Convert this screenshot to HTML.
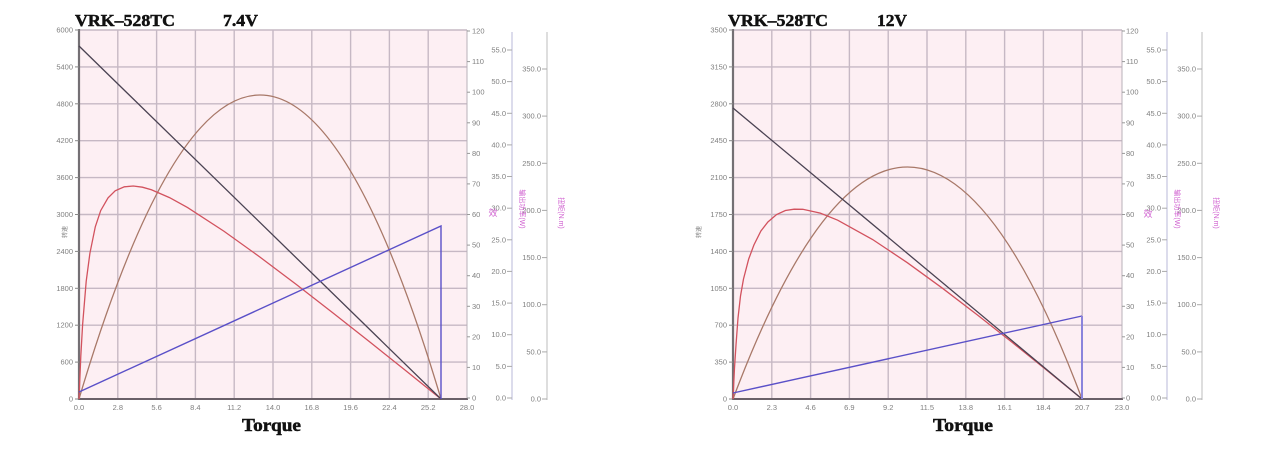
<!DOCTYPE html>
<html>
<head>
<meta charset="utf-8">
<style>
html,body{margin:0;padding:0;background:#fff;}
svg{display:block;}
.tk{font-family:"Liberation Sans",sans-serif;font-size:7.5px;fill:#808080;}
.ttl{font-family:"Liberation Serif",serif;font-weight:bold;font-size:17px;fill:#111;stroke:#111;stroke-width:0.5;}
.mg{font-family:"Liberation Sans","Noto Sans CJK SC",sans-serif;font-size:7px;fill:#d060d0;}
</style>
</head>
<body>
<svg width="1272" height="451" viewBox="0 0 1272 451" xmlns="http://www.w3.org/2000/svg">
<rect width="1272" height="451" fill="#fff"/>

<!-- ================= LEFT CHART ================= -->
<g>
<rect x="79" y="30" width="388" height="369" fill="#fdeff3"/>
<g stroke="#c6b8c4" stroke-width="1.4">
<line x1="117.8" y1="30" x2="117.8" y2="399"/><line x1="156.6" y1="30" x2="156.6" y2="399"/>
<line x1="195.4" y1="30" x2="195.4" y2="399"/><line x1="234.2" y1="30" x2="234.2" y2="399"/>
<line x1="273" y1="30" x2="273" y2="399"/><line x1="311.8" y1="30" x2="311.8" y2="399"/>
<line x1="350.6" y1="30" x2="350.6" y2="399"/><line x1="389.4" y1="30" x2="389.4" y2="399"/>
<line x1="428.2" y1="30" x2="428.2" y2="399"/>
<line x1="79" y1="362.1" x2="467" y2="362.1"/><line x1="79" y1="325.2" x2="467" y2="325.2"/>
<line x1="79" y1="288.3" x2="467" y2="288.3"/><line x1="79" y1="251.4" x2="467" y2="251.4"/>
<line x1="79" y1="214.5" x2="467" y2="214.5"/><line x1="79" y1="177.6" x2="467" y2="177.6"/>
<line x1="79" y1="140.7" x2="467" y2="140.7"/><line x1="79" y1="103.8" x2="467" y2="103.8"/>
<line x1="79" y1="66.9" x2="467" y2="66.9"/><line x1="79" y1="30" x2="467" y2="30"/>
</g>
<line x1="467" y1="30" x2="467" y2="399" stroke="#b8b0b8" stroke-width="1"/>
<line x1="79" y1="29" x2="79" y2="400" stroke="#747074" stroke-width="2.2"/>
<line x1="78" y1="399" x2="468" y2="399" stroke="#6a6068" stroke-width="2"/>
<g stroke="#888" stroke-width="1">
<line x1="75" y1="399" x2="79" y2="399"/><line x1="75" y1="362.1" x2="79" y2="362.1"/><line x1="75" y1="325.2" x2="79" y2="325.2"/>
<line x1="75" y1="288.3" x2="79" y2="288.3"/><line x1="75" y1="251.4" x2="79" y2="251.4"/><line x1="75" y1="214.5" x2="79" y2="214.5"/>
<line x1="75" y1="177.6" x2="79" y2="177.6"/><line x1="75" y1="140.7" x2="79" y2="140.7"/><line x1="75" y1="103.8" x2="79" y2="103.8"/>
<line x1="75" y1="66.9" x2="79" y2="66.9"/><line x1="75" y1="30" x2="79" y2="30"/>
</g>
<g class="tk" text-anchor="end">
<text x="73" y="401.5">0</text><text x="73" y="364.6">600</text><text x="73" y="327.7">1200</text>
<text x="73" y="290.8">1800</text><text x="73" y="253.9">2400</text><text x="73" y="217">3000</text>
<text x="73" y="180.1">3600</text><text x="73" y="143.2">4200</text><text x="73" y="106.3">4800</text>
<text x="73" y="69.4">5400</text><text x="73" y="32.5">6000</text>
</g>
<text class="tk" x="0" y="0" transform="translate(67,232) rotate(-90)" text-anchor="middle" style="font-size:6px">转速</text>
<g class="tk" text-anchor="middle">
<text x="79" y="410">0.0</text><text x="117.8" y="410">2.8</text><text x="156.6" y="410">5.6</text>
<text x="195.4" y="410">8.4</text><text x="234.2" y="410">11.2</text><text x="273" y="410">14.0</text>
<text x="311.8" y="410">16.8</text><text x="350.6" y="410">19.6</text><text x="389.4" y="410">22.4</text>
<text x="428.2" y="410">25.2</text><text x="467" y="410">28.0</text>
</g>
<g stroke="#999" stroke-width="1">
<line x1="467" y1="398" x2="470" y2="398"/><line x1="467" y1="367.4" x2="470" y2="367.4"/><line x1="467" y1="336.8" x2="470" y2="336.8"/>
<line x1="467" y1="306.3" x2="470" y2="306.3"/><line x1="467" y1="275.7" x2="470" y2="275.7"/><line x1="467" y1="245.1" x2="470" y2="245.1"/>
<line x1="467" y1="214.5" x2="470" y2="214.5"/><line x1="467" y1="183.9" x2="470" y2="183.9"/><line x1="467" y1="153.4" x2="470" y2="153.4"/>
<line x1="467" y1="122.8" x2="470" y2="122.8"/><line x1="467" y1="92.2" x2="470" y2="92.2"/><line x1="467" y1="61.6" x2="470" y2="61.6"/>
<line x1="467" y1="31" x2="470" y2="31"/>
</g>
<g class="tk">
<text x="472" y="400.5">0</text><text x="472" y="369.9">10</text><text x="472" y="339.3">20</text>
<text x="472" y="308.8">30</text><text x="472" y="278.2">40</text><text x="472" y="247.6">50</text>
<text x="472" y="217">60</text><text x="472" y="186.4">70</text><text x="472" y="155.9">80</text>
<text x="472" y="125.3">90</text><text x="472" y="94.7">100</text><text x="472" y="64.1">110</text>
<text x="472" y="33.5">120</text>
</g>
<line x1="512" y1="32" x2="512" y2="400" stroke="#c4c4e0" stroke-width="1.2"/>
<g stroke="#aaa" stroke-width="1">
<line x1="507" y1="398" x2="512" y2="398"/><line x1="507" y1="366.4" x2="512" y2="366.4"/><line x1="507" y1="334.7" x2="512" y2="334.7"/>
<line x1="507" y1="303.1" x2="512" y2="303.1"/><line x1="507" y1="271.4" x2="512" y2="271.4"/><line x1="507" y1="239.8" x2="512" y2="239.8"/>
<line x1="507" y1="208.2" x2="512" y2="208.2"/><line x1="507" y1="176.5" x2="512" y2="176.5"/><line x1="507" y1="144.9" x2="512" y2="144.9"/>
<line x1="507" y1="113.3" x2="512" y2="113.3"/><line x1="507" y1="81.6" x2="512" y2="81.6"/><line x1="507" y1="50" x2="512" y2="50"/>
</g>
<g class="tk" text-anchor="end">
<text x="506" y="400.5">0.0</text><text x="506" y="368.9">5.0</text><text x="506" y="337.2">10.0</text>
<text x="506" y="305.6">15.0</text><text x="506" y="273.9">20.0</text><text x="506" y="242.3">25.0</text>
<text x="506" y="210.7">30.0</text><text x="506" y="179">35.0</text><text x="506" y="147.4">40.0</text>
<text x="506" y="115.8">45.0</text><text x="506" y="84.1">50.0</text><text x="506" y="52.5">55.0</text>
</g>
<line x1="547" y1="32" x2="547" y2="400" stroke="#c8c8c8" stroke-width="1.2"/>
<g stroke="#aaa" stroke-width="1">
<line x1="542" y1="399" x2="547" y2="399"/><line x1="542" y1="351.9" x2="547" y2="351.9"/><line x1="542" y1="304.7" x2="547" y2="304.7"/>
<line x1="542" y1="257.6" x2="547" y2="257.6"/><line x1="542" y1="210.4" x2="547" y2="210.4"/><line x1="542" y1="163.3" x2="547" y2="163.3"/>
<line x1="542" y1="116.1" x2="547" y2="116.1"/><line x1="542" y1="69" x2="547" y2="69"/>
</g>
<g class="tk" text-anchor="end">
<text x="541" y="401.5">0.0</text><text x="541" y="354.4">50.0</text><text x="541" y="307.2">100.0</text>
<text x="541" y="260.1">150.0</text><text x="541" y="212.9">200.0</text><text x="541" y="165.8">250.0</text>
<text x="541" y="118.6">300.0</text><text x="541" y="71.5">350.0</text>
</g>
<text class="mg" x="493" y="216" text-anchor="middle" style="font-size:9px">效</text>
<text class="mg" transform="translate(520,209) rotate(90)" text-anchor="middle">输出功率(W)</text>
<text class="mg" transform="translate(559,213) rotate(90)" text-anchor="middle">扭矩(N.m)</text>

<path d="M79,399 Q260,-209 441,399" fill="none" stroke="#a87868" stroke-width="1.3"/>
<polyline fill="none" stroke="#d2525e" stroke-width="1.3" points="79,399 80.8,356.3 82.6,324.7 86.2,281.3 89.9,253.3 95.3,226.8 100.7,210.6 108,197.9 115.2,190.8 124.3,186.8 133.3,186 142.4,187.2 151.4,189.8 169.5,197.6 187.6,207.6 223.8,231.1 260,257.1 296.2,284.4 332.4,312.5 368.6,341 404.8,369.9 441,399"/>
<line x1="79" y1="46" x2="441" y2="399" stroke="#4a4252" stroke-width="1.3"/>
<polyline fill="none" stroke="#5a50c8" stroke-width="1.4" points="79,392 441,226 441,399"/>

<text class="ttl" x="75" y="26" textLength="100" lengthAdjust="spacingAndGlyphs">VRK–528TC</text>
<text class="ttl" x="223" y="26" textLength="35" lengthAdjust="spacingAndGlyphs">7.4V</text>
<text class="ttl" x="242" y="431" textLength="59" lengthAdjust="spacingAndGlyphs" style="font-size:18px">Torque</text>
</g>

<!-- ================= RIGHT CHART ================= -->
<g>
<rect x="733" y="30" width="389" height="369" fill="#fdeff3"/>
<g stroke="#c6b8c4" stroke-width="1.4">
<line x1="771.8" y1="30" x2="771.8" y2="399"/><line x1="810.6" y1="30" x2="810.6" y2="399"/>
<line x1="849.4" y1="30" x2="849.4" y2="399"/><line x1="888.2" y1="30" x2="888.2" y2="399"/>
<line x1="927" y1="30" x2="927" y2="399"/><line x1="965.8" y1="30" x2="965.8" y2="399"/>
<line x1="1004.6" y1="30" x2="1004.6" y2="399"/><line x1="1043.4" y1="30" x2="1043.4" y2="399"/>
<line x1="1082.2" y1="30" x2="1082.2" y2="399"/>
<line x1="733" y1="362.1" x2="1122" y2="362.1"/><line x1="733" y1="325.2" x2="1122" y2="325.2"/>
<line x1="733" y1="288.3" x2="1122" y2="288.3"/><line x1="733" y1="251.4" x2="1122" y2="251.4"/>
<line x1="733" y1="214.5" x2="1122" y2="214.5"/><line x1="733" y1="177.6" x2="1122" y2="177.6"/>
<line x1="733" y1="140.7" x2="1122" y2="140.7"/><line x1="733" y1="103.8" x2="1122" y2="103.8"/>
<line x1="733" y1="66.9" x2="1122" y2="66.9"/><line x1="733" y1="30" x2="1122" y2="30"/>
</g>
<line x1="1122" y1="30" x2="1122" y2="399" stroke="#b8b0b8" stroke-width="1"/>
<line x1="733" y1="29" x2="733" y2="400" stroke="#747074" stroke-width="2.2"/>
<line x1="732" y1="399" x2="1123" y2="399" stroke="#6a6068" stroke-width="2"/>
<g stroke="#888" stroke-width="1">
<line x1="729" y1="399" x2="733" y2="399"/><line x1="729" y1="362.1" x2="733" y2="362.1"/><line x1="729" y1="325.2" x2="733" y2="325.2"/>
<line x1="729" y1="288.3" x2="733" y2="288.3"/><line x1="729" y1="251.4" x2="733" y2="251.4"/><line x1="729" y1="214.5" x2="733" y2="214.5"/>
<line x1="729" y1="177.6" x2="733" y2="177.6"/><line x1="729" y1="140.7" x2="733" y2="140.7"/><line x1="729" y1="103.8" x2="733" y2="103.8"/>
<line x1="729" y1="66.9" x2="733" y2="66.9"/><line x1="729" y1="30" x2="733" y2="30"/>
</g>
<g class="tk" text-anchor="end">
<text x="727" y="401.5">0</text><text x="727" y="364.6">350</text><text x="727" y="327.7">700</text>
<text x="727" y="290.8">1050</text><text x="727" y="253.9">1400</text><text x="727" y="217">1750</text>
<text x="727" y="180.1">2100</text><text x="727" y="143.2">2450</text><text x="727" y="106.3">2800</text>
<text x="727" y="69.4">3150</text><text x="727" y="32.5">3500</text>
</g>
<text class="tk" x="0" y="0" transform="translate(701,232) rotate(-90)" text-anchor="middle" style="font-size:6px">转速</text>
<g class="tk" text-anchor="middle">
<text x="733" y="410">0.0</text><text x="771.8" y="410">2.3</text><text x="810.6" y="410">4.6</text>
<text x="849.4" y="410">6.9</text><text x="888.2" y="410">9.2</text><text x="927" y="410">11.5</text>
<text x="965.8" y="410">13.8</text><text x="1004.6" y="410">16.1</text><text x="1043.4" y="410">18.4</text>
<text x="1082.2" y="410">20.7</text><text x="1122" y="410">23.0</text>
</g>
<g stroke="#999" stroke-width="1">
<line x1="1122" y1="398" x2="1125" y2="398"/><line x1="1122" y1="367.4" x2="1125" y2="367.4"/><line x1="1122" y1="336.8" x2="1125" y2="336.8"/>
<line x1="1122" y1="306.3" x2="1125" y2="306.3"/><line x1="1122" y1="275.7" x2="1125" y2="275.7"/><line x1="1122" y1="245.1" x2="1125" y2="245.1"/>
<line x1="1122" y1="214.5" x2="1125" y2="214.5"/><line x1="1122" y1="183.9" x2="1125" y2="183.9"/><line x1="1122" y1="153.4" x2="1125" y2="153.4"/>
<line x1="1122" y1="122.8" x2="1125" y2="122.8"/><line x1="1122" y1="92.2" x2="1125" y2="92.2"/><line x1="1122" y1="61.6" x2="1125" y2="61.6"/>
<line x1="1122" y1="31" x2="1125" y2="31"/>
</g>
<g class="tk">
<text x="1126" y="400.5">0</text><text x="1126" y="369.9">10</text><text x="1126" y="339.3">20</text>
<text x="1126" y="308.8">30</text><text x="1126" y="278.2">40</text><text x="1126" y="247.6">50</text>
<text x="1126" y="217">60</text><text x="1126" y="186.4">70</text><text x="1126" y="155.9">80</text>
<text x="1126" y="125.3">90</text><text x="1126" y="94.7">100</text><text x="1126" y="64.1">110</text>
<text x="1126" y="33.5">120</text>
</g>
<line x1="1167" y1="32" x2="1167" y2="400" stroke="#c4c4e0" stroke-width="1.2"/>
<g stroke="#aaa" stroke-width="1">
<line x1="1162" y1="398" x2="1167" y2="398"/><line x1="1162" y1="366.4" x2="1167" y2="366.4"/><line x1="1162" y1="334.7" x2="1167" y2="334.7"/>
<line x1="1162" y1="303.1" x2="1167" y2="303.1"/><line x1="1162" y1="271.4" x2="1167" y2="271.4"/><line x1="1162" y1="239.8" x2="1167" y2="239.8"/>
<line x1="1162" y1="208.2" x2="1167" y2="208.2"/><line x1="1162" y1="176.5" x2="1167" y2="176.5"/><line x1="1162" y1="144.9" x2="1167" y2="144.9"/>
<line x1="1162" y1="113.3" x2="1167" y2="113.3"/><line x1="1162" y1="81.6" x2="1167" y2="81.6"/><line x1="1162" y1="50" x2="1167" y2="50"/>
</g>
<g class="tk" text-anchor="end">
<text x="1161" y="400.5">0.0</text><text x="1161" y="368.9">5.0</text><text x="1161" y="337.2">10.0</text>
<text x="1161" y="305.6">15.0</text><text x="1161" y="273.9">20.0</text><text x="1161" y="242.3">25.0</text>
<text x="1161" y="210.7">30.0</text><text x="1161" y="179">35.0</text><text x="1161" y="147.4">40.0</text>
<text x="1161" y="115.8">45.0</text><text x="1161" y="84.1">50.0</text><text x="1161" y="52.5">55.0</text>
</g>
<line x1="1202" y1="32" x2="1202" y2="400" stroke="#c8c8c8" stroke-width="1.2"/>
<g stroke="#aaa" stroke-width="1">
<line x1="1197" y1="399" x2="1202" y2="399"/><line x1="1197" y1="351.9" x2="1202" y2="351.9"/><line x1="1197" y1="304.7" x2="1202" y2="304.7"/>
<line x1="1197" y1="257.6" x2="1202" y2="257.6"/><line x1="1197" y1="210.4" x2="1202" y2="210.4"/><line x1="1197" y1="163.3" x2="1202" y2="163.3"/>
<line x1="1197" y1="116.1" x2="1202" y2="116.1"/><line x1="1197" y1="69" x2="1202" y2="69"/>
</g>
<g class="tk" text-anchor="end">
<text x="1196" y="401.5">0.0</text><text x="1196" y="354.4">50.0</text><text x="1196" y="307.2">100.0</text>
<text x="1196" y="260.1">150.0</text><text x="1196" y="212.9">200.0</text><text x="1196" y="165.8">250.0</text>
<text x="1196" y="118.6">300.0</text><text x="1196" y="71.5">350.0</text>
</g>
<text class="mg" x="1148" y="217" text-anchor="middle" style="font-size:9px">效</text>
<text class="mg" transform="translate(1175,209) rotate(90)" text-anchor="middle">输出功率(W)</text>
<text class="mg" transform="translate(1214,213) rotate(90)" text-anchor="middle">扭矩(N.m)</text>

<path d="M733,399 Q907.5,-65 1082,399" fill="none" stroke="#a87868" stroke-width="1.3"/>
<polyline fill="none" stroke="#d2525e" stroke-width="1.3" points="733,399 734.5,368 736,345 738,318 740.5,296 743.5,279 748.7,259 753.9,245 760.9,231 767.9,222 776.6,214.5 785.4,210.5 794.1,209.2 802.8,209.3 820.3,213.1 837.7,220.2 872.6,239.5 907.5,262.8 942.4,288.2 977.3,314.9 1012.2,342.4 1047.1,370.5 1082,399"/>
<line x1="733" y1="108" x2="1082" y2="399" stroke="#4a4252" stroke-width="1.3"/>
<polyline fill="none" stroke="#5a50c8" stroke-width="1.4" points="733,393 1082,316"/>
<line x1="1082" y1="316" x2="1082" y2="399" stroke="#8a84dc" stroke-width="2"/>

<text class="ttl" x="728" y="26" textLength="100" lengthAdjust="spacingAndGlyphs">VRK–528TC</text>
<text class="ttl" x="877" y="26" textLength="30" lengthAdjust="spacingAndGlyphs">12V</text>
<text class="ttl" x="933" y="431" textLength="60" lengthAdjust="spacingAndGlyphs" style="font-size:18px">Torque</text>
</g>
</svg>
</body>
</html>
